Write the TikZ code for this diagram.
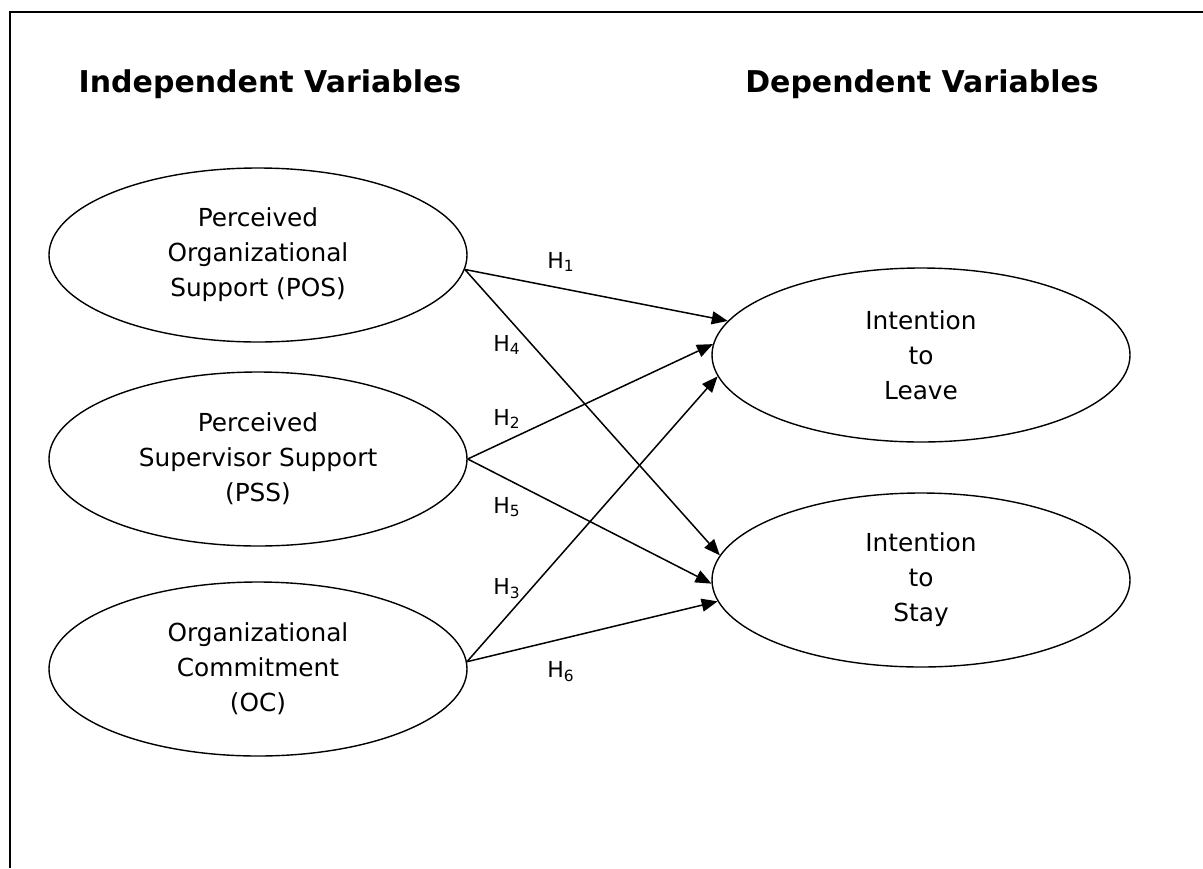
\documentclass[tikz,border=0pt]{standalone}
\usepackage{fontspec}
\setmainfont{DejaVu Sans}
\usetikzlibrary{shapes.geometric,arrows.meta}
\tikzset{
  var/.style={draw, ellipse, line width=0.7pt, minimum width=209pt, minimum height=87pt,
    inner sep=0pt, align=center, font=\fontsize{12.4}{17.5}\selectfont},
  hyp/.style={-{Triangle[length=8pt,width=6.5pt]}, line width=0.75pt},
  hlabel/.style={anchor=west, inner sep=0pt, font=\fontsize{11}{13}\selectfont},
  heading/.style={font=\bfseries\fontsize{15}{18}\selectfont}
}
\begin{document}
\begin{tikzpicture}[x=0.5pt,y=-0.5pt]
        \useasboundingbox (0,0) rectangle (1203,868);
        \draw[line width=1pt] (1203,12) -- (10,12) -- (10,868);
        \node[heading] (indep) at (270,84) {Independent Variables};
        \node[heading] (dep) at (922,84) {Dependent Variables};
        \node[var] (pos) at (258,255) {Perceived\\Organizational\\Support (POS)};
        \node[var] (pss) at (258,459) {Perceived\\Supervisor Support\\(PSS)};
        \node[var] (oc) at (258,669) {Organizational\\Commitment\\(OC)};
        \node[var] (leave) at (921,355) {Intention\\to\\Leave};
        \node[var] (stay) at (921,580) {Intention\\to\\Stay};
        \draw[hyp] (pos.-4) -- (leave.170);
        \draw[hyp] (pos.-4) -- (stay.173);
        \draw[hyp] (pss.east) -- (leave.177);
        \draw[hyp] (pss.east) -- (stay.181);
        \draw[hyp] (oc.2) -- (leave.186);
        \draw[hyp] (oc.2) -- (stay.186);
        \node[hlabel] (h1) at (547,262) {H\textsubscript{1}};
        \node[hlabel] (h4) at (493,345) {H\textsubscript{4}};
        \node[hlabel] (h2) at (493,419) {H\textsubscript{2}};
        \node[hlabel] (h5) at (493,507) {H\textsubscript{5}};
        \node[hlabel] (h3) at (493,589) {H\textsubscript{3}};
        \node[hlabel] (h6) at (547,672) {H\textsubscript{6}};
\end{tikzpicture}
\end{document}
